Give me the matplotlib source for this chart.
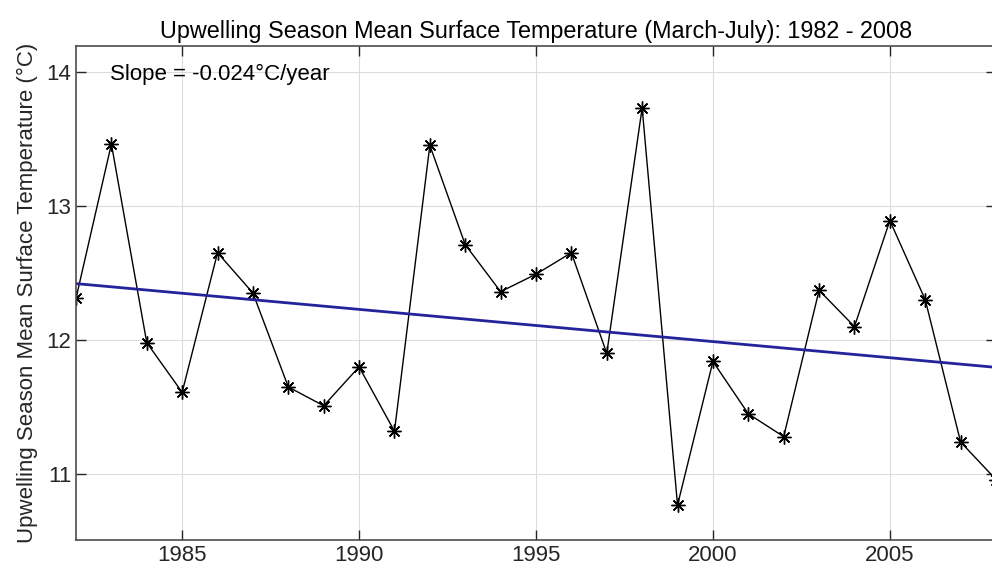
import numpy as np
import matplotlib
matplotlib.use("Agg")
import matplotlib.pyplot as plt

plt.rcParams["font.family"] = ["Liberation Sans", "DejaVu Sans"]

years = np.arange(1982, 2009)
temps = [12.31, 13.46, 11.98, 11.61, 12.65, 12.35, 11.65, 11.51, 11.80,
         11.32, 13.45, 12.71, 12.36, 12.49, 12.65, 11.90, 13.73, 10.77,
         11.84, 11.45, 11.28, 12.37, 12.10, 12.89, 12.30, 11.24, 10.96]

slope = -0.024
start_value = 12.42
trend = start_value + slope * (years - years[0])

fig = plt.figure(figsize=(9.92, 5.77), dpi=100)
ax = fig.add_axes([76 / 992, 37 / 577, 920 / 992, 494 / 577])

# asterisk markers with 8 spokes
ax.plot(years, temps, color="black", lw=1.0, marker=(8, 2, 0), ms=10, mew=1.0)
ax.plot(years, trend, color="#23239a", lw=2.0)

ax.set_xlim(1982, 2008)
ax.set_ylim(10.51, 14.19)
ax.set_xticks([1985, 1990, 1995, 2000, 2005])
ax.set_yticks([11, 12, 13, 14])
ax.grid(True, color="#dcdcdc", lw=0.8)
ax.set_axisbelow(True)
ax.tick_params(direction="in", top=True, right=True, length=7, width=1,
               labelsize=16, colors="#262626", labelcolor="#262626")
for s in ax.spines.values():
    s.set_color("#4d4d4d")
    s.set_linewidth(1.2)

ax.set_title("Upwelling Season Mean Surface Temperature (March-July): 1982 - 2008",
             fontsize=16.8, pad=6)
ax.set_ylabel("Upwelling Season Mean Surface Temperature (\u00b0C)", fontsize=16,
              color="#262626", labelpad=6)
ax.text(0.037, 0.943, "Slope = -0.024\u00b0C/year", transform=ax.transAxes,
        fontsize=16, va="center", ha="left")

fig.savefig("out.png", dpi=100)
